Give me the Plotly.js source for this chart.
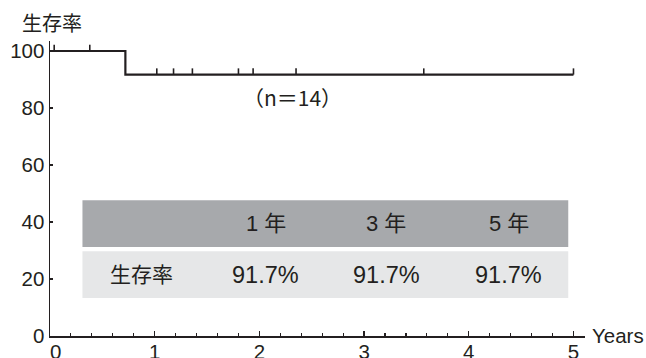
<!DOCTYPE html>
<html>
<head>
<meta charset="utf-8">
<script src="https://cdn.plot.ly/plotly-3.0.1.min.js"></script>
<style>
  html, body { margin: 0; padding: 0; background: #fff; }
  #chart { width: 646px; height: 358px; }
</style>
</head>
<body>
<div id="chart"></div>
<script>
// Kaplan-Meier survival curve (n=14)
const stepTimes = [0, 0.72, 5.0];        // years
const stepSurvival = [100, 91.7, 91.7];  // %

// censored observations
const censorTimes = [0.04, 0.38, 1.02, 1.18, 1.36, 1.80, 1.94, 2.35, 3.57, 5.0];

// summary table
const tableHeader = ['', '1 年', '3 年', '5 年'];
const tableRowLabel = '生存率';
const tableRates = [91.7, 91.7, 91.7];

const xTickVals = [0, 1, 2, 3, 4, 5];
const xTickText = ['\u00a0\u00a00', '1', '2', '3', '4', '5'];
const yTickVals = [0, 20, 40, 60, 80, 100];

const INK = '#231f20';
const LATIN = 'Liberation Sans, Arial, sans-serif';
const CJK = 'Liberation Sans, Noto Sans CJK JP, sans-serif';

// survival level at time t from the step function
function survivalAt(t) {
  let s = stepSurvival[0];
  for (let i = 0; i < stepTimes.length; i++) {
    if (stepTimes[i] <= t) s = stepSurvival[i];
  }
  return s;
}

// small upward ticks for censoring marks
const tickH = 2.2;
const cx = [], cy = [];
censorTimes.forEach(t => {
  const s = survivalAt(t);
  cx.push(t, t, null);
  cy.push(s, s + tickH, null);
});

const traces = [
  {
    x: stepTimes, y: stepSurvival,
    type: 'scatter', mode: 'lines',
    line: { shape: 'hv', color: INK, width: 2.2 },
    hoverinfo: 'skip', showlegend: false
  },
  {
    x: cx, y: cy,
    type: 'scatter', mode: 'lines',
    line: { color: INK, width: 1.6 },
    hoverinfo: 'skip', showlegend: false, connectgaps: false
  }
];

// table geometry (data units)
const tblX0 = 0.31, tblX1 = 4.95;
const headY0 = 31.2, headY1 = 47.6;
const rowY0 = 13.3, rowY1 = 29.7;
const colX = [0.87, 2.06, 3.21, 4.38];

const shapes = [
  { type: 'rect', xref: 'x', yref: 'y', x0: tblX0, x1: tblX1, y0: headY0, y1: headY1,
    fillcolor: '#a7a9ac', line: { width: 0 }, layer: 'below' },
  { type: 'rect', xref: 'x', yref: 'y', x0: tblX0, x1: tblX1, y0: rowY0, y1: rowY1,
    fillcolor: '#e6e7e8', line: { width: 0 }, layer: 'below' }
];

const annotations = [];
tableHeader.forEach((h, i) => {
  if (!h) return;
  annotations.push({
    x: colX[i], y: (headY0 + headY1) / 2, xref: 'x', yref: 'y',
    text: h, showarrow: false, xanchor: 'center', yanchor: 'middle',
    font: { family: CJK, size: 22, color: INK }
  });
});
annotations.push({
  x: colX[0], y: (rowY0 + rowY1) / 2, xref: 'x', yref: 'y',
  text: tableRowLabel, showarrow: false, xanchor: 'center', yanchor: 'middle',
  font: { family: CJK, size: 21, color: INK }
});
tableRates.forEach((v, i) => {
  annotations.push({
    x: colX[i + 1], y: (rowY0 + rowY1) / 2, xref: 'x', yref: 'y',
    text: v.toFixed(1) + '%', showarrow: false, xanchor: 'center', yanchor: 'middle',
    font: { family: LATIN, size: 23.5, color: INK }
  });
});

// y-axis title at top-left
annotations.push({
  x: -0.056, y: 1.063, xref: 'paper', yref: 'paper',
  text: '生存率', showarrow: false, xanchor: 'left', yanchor: 'middle',
  font: { family: 'Noto Sans CJK JP, sans-serif', size: 20, color: INK }
});
// x-axis title at right end
annotations.push({
  x: 1.01, y: 0.002, xref: 'paper', yref: 'paper',
  text: 'Years', showarrow: false, xanchor: 'left', yanchor: 'middle',
  font: { family: LATIN, size: 20.5, color: INK }
});
// sample size
annotations.push({
  x: 2.32, y: 84, xref: 'x', yref: 'y',
  text: '（n＝14）', showarrow: false, xanchor: 'center', yanchor: 'middle',
  font: { family: 'Noto Sans CJK JP, sans-serif', size: 21, color: INK }
});

const layout = {
  width: 646, height: 358,
  margin: { l: 50, r: 61, t: 41, b: 22, pad: 0 },
  paper_bgcolor: '#ffffff', plot_bgcolor: '#ffffff',
  showlegend: false,
  xaxis: {
    range: [0, 5.11], showgrid: false, zeroline: false,
    showline: true, linecolor: INK, linewidth: 1.5,
    tickmode: 'array', tickvals: xTickVals, ticktext: xTickText,
    ticks: 'inside', ticklen: 5, tickwidth: 1.3, tickcolor: INK,
    ticklabelstandoff: -3,
    minor: { dtick: 0.2, tick0: 0, ticks: 'inside', ticklen: 3, tickwidth: 1.1, tickcolor: INK, showgrid: false },
    tickfont: { family: LATIN, size: 20.5, color: INK },
    automargin: false, fixedrange: true
  },
  yaxis: {
    range: [0, 103.5], showgrid: false, zeroline: false,
    showline: true, linecolor: INK, linewidth: 1.5,
    tickmode: 'array', tickvals: yTickVals, ticktext: yTickVals.map(String),
    ticks: 'inside', ticklen: 3, tickwidth: 1.3, tickcolor: INK,
    tickfont: { family: LATIN, size: 20.5, color: INK },
    automargin: false, fixedrange: true
  },
  shapes: shapes,
  annotations: annotations
};

Plotly.newPlot('chart', traces, layout, { displayModeBar: false, staticPlot: true });
</script>
</body>
</html>
